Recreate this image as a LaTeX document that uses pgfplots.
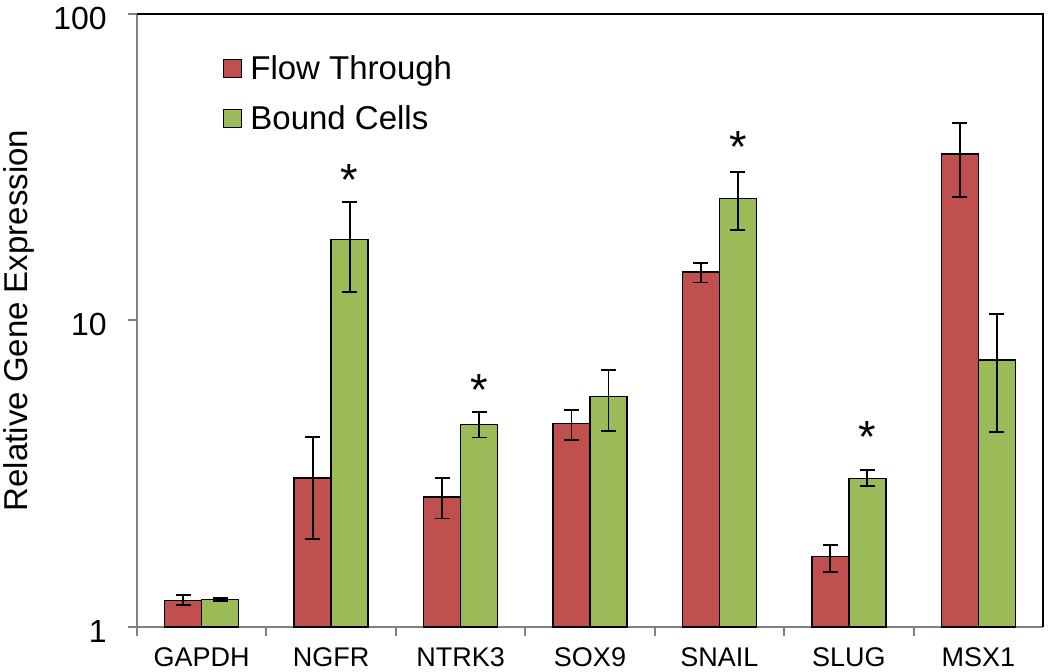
\documentclass[border=0pt]{standalone}
\usepackage{pgfplots}
\pgfplotsset{compat=1.18}
\usepackage{pgfplotstable}
\usepackage{fontspec}
\setmainfont{Liberation Sans}
\definecolor{ftred}{RGB}{192,80,77}
\definecolor{bcgreen}{RGB}{155,187,89}
\definecolor{axgray}{RGB}{128,128,128}

\pgfplotstableread{
x y ep em
0 1.22 0.05 0.04
1 3.06 1.10 1.12
2 2.66 0.41 0.40
3 4.61 0.49 0.53
4 14.4 1.0 1.1
5 1.70 0.15 0.19
6 34.9 9.1 9.6
}\flow

\pgfplotstableread{
x y ep em
0 1.23 0.015 0.015
1 18.4 5.9 6.0
2 4.58 0.44 0.43
3 5.64 1.24 1.27
4 25.0 5.6 5.3
5 3.05 0.20 0.17
6 7.43 3.07 3.09
}\bound

\pgfplotstableread{
x y
1.143 30.1
2.143 6.21
4.143 38.8
5.143 4.36
}\stars

\begin{document}
\begin{tikzpicture}
\useasboundingbox (-137pt,-45pt) rectangle (913pt,627pt);
\begin{axis}[
  name=ax,
  anchor=south west, at={(0,0)},
  scale only axis, width=906pt, height=613pt,
  ybar=0pt, bar width=37pt,
  ymode=log, ymin=1, ymax=100,
  xmin=-0.5, xmax=6.5,
  axis lines*=left,
  axis line style={draw=axgray, line width=2.5pt},
  tick align=outside,
  major tick length=9pt,
  tick style={draw=axgray, line width=2pt},
  yminorticks=false,
  ytick={1,10,100}, yticklabels={1,10,100},
  yticklabel style={font=\fontsize{32}{38}\selectfont, inner sep=0pt, anchor=east, xshift=-21pt, yshift=-4pt},
  xtick={-0.5,0.5,1.5,2.5,3.5,4.5,5.5}, xticklabels={},
  extra x ticks={0,1,2,3,4,5,6},
  extra x tick labels={GAPDH,NGFR,NTRK3,SOX9,SNAIL,SLUG,MSX1},
  extra x tick style={major tick length=0pt, xticklabel style={font=\fontsize{27}{32}\selectfont, inner sep=0pt, anchor=north, yshift=-20pt}},
  ylabel={Relative Gene Expression},
  ylabel style={font=\fontsize{33}{40}\selectfont, at={(axis description cs:0,0.5)}, anchor=center, xshift=0pt, yshift=118pt},
  legend style={draw=none, fill=none, inner sep=0pt, at={(axis description cs:0,1)}, anchor=north west, xshift=86pt, yshift=-41.8pt, font=\fontsize{33}{40}\selectfont, row sep=18.5pt, nodes={inner sep=0pt, text height=24pt, text depth=7.5pt}},
  legend cell align=left,
  /tikz/every odd column/.append style={column sep=8pt},
  clip=false,
  after end axis/.code={
    \draw[black, line width=2.5pt] (rel axis cs:0,1) -- (rel axis cs:1,1) -- (rel axis cs:1,0);
  },
]
\addplot[bar shift=-18.5pt, fill=ftred, draw=black, line width=1.5pt,
  legend image code/.code={\draw[fill=ftred, draw=black, line width=1.2pt] (0pt,-5.5pt) rectangle (18pt,12.5pt);},
  error bars/.cd, y dir=both, y explicit,
  error bar style={black, line width=1.8pt},
  error mark options={rotate=90, mark size=7.5pt, line width=1.8pt, black}]
  table[x=x, y=y, y error plus=ep, y error minus=em]{\flow};
\addlegendentry{Flow Through}
\addplot[bar shift=18.5pt, fill=bcgreen, draw=black, line width=1.5pt,
  legend image code/.code={\draw[fill=bcgreen, draw=black, line width=1.2pt] (0pt,-5.5pt) rectangle (18pt,12.5pt);},
  error bars/.cd, y dir=both, y explicit,
  error bar style={black, line width=1.8pt},
  error mark options={rotate=90, mark size=7.5pt, line width=1.8pt, black}]
  table[x=x, y=y, y error plus=ep, y error minus=em]{\bound};
\addlegendentry{Bound Cells}
\addplot[bar shift=0pt, draw=none, fill=none, nodes near coords={*},
  nodes near coords style={font=\fontsize{45}{54}\selectfont, anchor=base, inner sep=0pt, yshift=-22pt}]
  table[x=x, y=y]{\stars};
\end{axis}
\end{tikzpicture}
\end{document}
